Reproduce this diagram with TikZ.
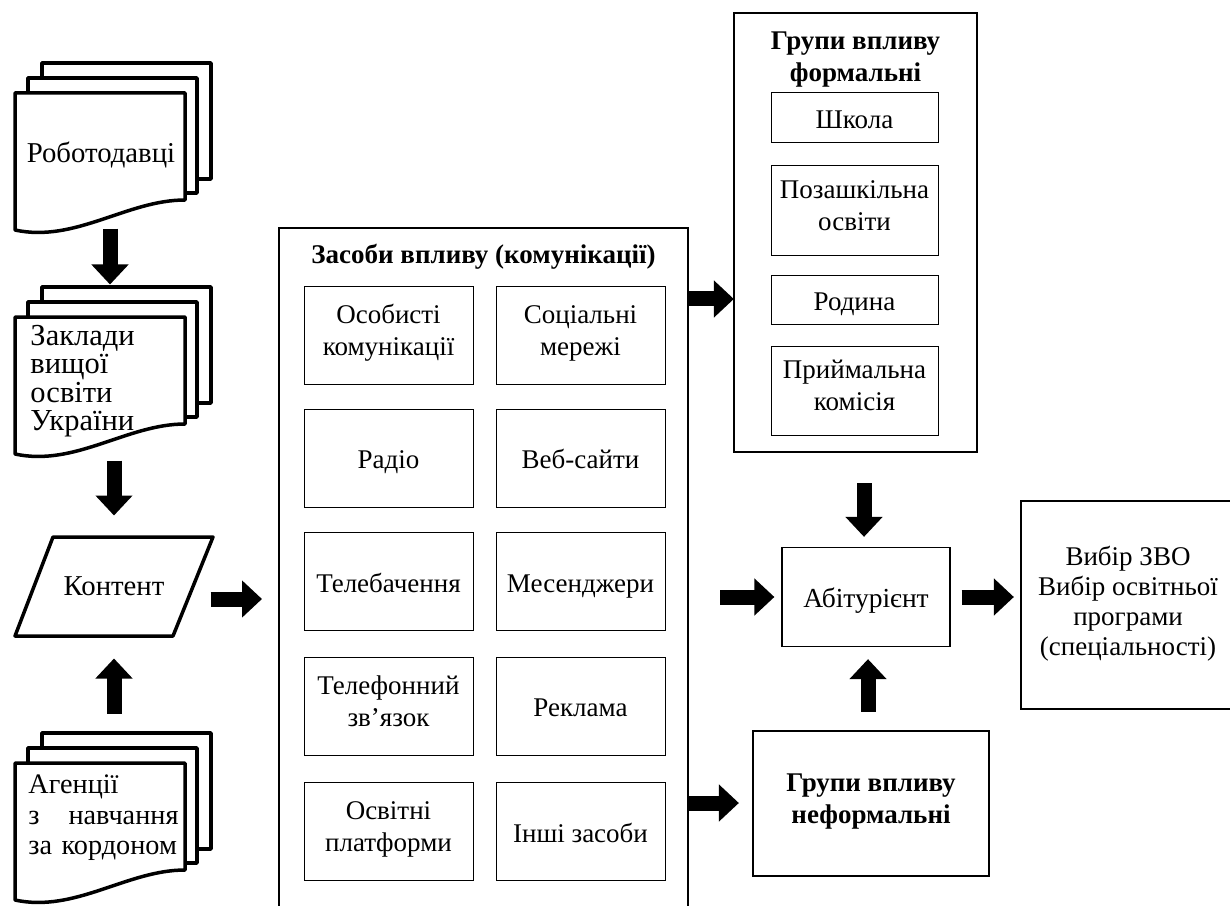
\documentclass[tikz,border=0pt]{standalone}
\usepackage{fontspec}
\setmainfont{Liberation Serif}
\usetikzlibrary{arrows.meta,calc}

\begin{document}
\begin{tikzpicture}
  [x=0.4pt,y=-0.4pt,font=\fontsize{10.8}{12.8}\selectfont,
   page/.style={draw,line width=1.4pt,fill=white,line join=round},
   item/.style={draw,line width=0.4pt,align=center,minimum width=67.6pt,minimum height=39.2pt,inner ysep=1pt,
     execute at begin node={\rule{0pt}{12.6pt}},execute at end node=\strut},
   group/.style={draw,line width=0.9pt,align=center,
     execute at begin node={\rule{0pt}{12.6pt}},execute at end node=\strut},
   head/.style={font=\fontsize{10.8}{12.8}\selectfont\bfseries,align=center},
   barrow/.style={line width=6pt,-{Triangle[width=14.4pt,length=8pt]}}]

  \path[use as bounding box,clip] (0,0) rectangle (1230,905);

  % stacks of documents on the left
  \foreach \y/\nm in {93/emp,317/univ,763/agen}{
    \draw[page] (42,\y-30) rectangle (211,\y+86);
    \draw[page] (28,\y-15) rectangle (197,\y+100);
    \draw[page] (15,\y) -- (185,\y) -- (185,\y+107)
      .. controls (127,\y+107) and (75,\y+150) .. (15,\y+137) -- cycle;
    \node[minimum width=68pt,minimum height=54.8pt] (\nm) at (100,\y+68.5) {};
  }
  \node[font=\fontsize{11.5}{12.8}\selectfont] (emptext) at (101,155) {Роботодавці};
  \node[align=left,anchor=west,inner sep=0pt,font=\fontsize{12.2}{11.4}\selectfont] (univtext) at (30,381) {Заклади\\вищої\\освіти\\України};
  \node[text width=60pt,align=left,anchor=west,inner sep=0pt,font=\fontsize{11.3}{12.2}\selectfont] (agentext) at (28,818) {Агенції\\з\hfill навчання\\за кордоном};

  \draw[page] (53,537) -- (213,537) -- (173,636) -- (15,636) -- cycle;
  \node[minimum width=79.2pt,minimum height=39.6pt,font=\fontsize{11.5}{12.8}\selectfont] (content) at (114,586.5) {Контент};

  % means of influence
  \node[draw,line width=0.8pt,minimum width=163.6pt,minimum height=276.8pt] (means) at (483.5,574) {};
  \node[head] (meanshead) at (483.5,257) {Засоби впливу (комунікації)};
  \node[item] (m1) at (388.5,335) {Особисті\\комунікації};
  \node[item] (m2) at (580.5,335) {Соціальні\\мережі};
  \node[item] (m3) at (388.5,458) {Радіо};
  \node[item] (m4) at (580.5,458) {Веб-сайти};
  \node[item] (m5) at (388.5,581.5) {Телебачення};
  \node[item] (m6) at (580.5,581.5) {Месенджери};
  \node[item] (m7) at (388.5,706) {Телефонний\\зв’язок};
  \node[item] (m8) at (580.5,706) {Реклама};
  \node[item] (m9) at (388.5,831.5) {Освітні\\платформи};
  \node[item] (m10) at (580.5,831.5) {Інші засоби};

  % formal groups
  \node[group,minimum width=97.2pt,minimum height=175.6pt] (formal) at (855.5,232.5) {};
  \node[head] (formalhead) at (855.5,59.5) {Групи впливу\\формальні};
  \node[item,minimum width=66.8pt,minimum height=20pt] (school) at (854.5,118) {Школа};
  \node[item,minimum width=66.8pt,minimum height=35.6pt] (extra) at (854.5,210.5) {Позашкільна\\освіти};
  \node[item,minimum width=66.8pt,minimum height=19.6pt] (family) at (854.5,299.5) {Родина};
  \node[item,minimum width=66.8pt,minimum height=35.6pt] (admission) at (854.5,390.5) {Приймальна\\комісія};

  \node[item,line width=0.5pt,minimum width=67.2pt,minimum height=39.6pt,font=\fontsize{11}{12.8}\selectfont] (abit) at (866,597) {Абітурієнт};
  \node[group,minimum width=94.4pt,minimum height=58pt,font=\fontsize{10.8}{12.8}\selectfont\bfseries] (informal) at (871,803.5) {Групи впливу\\неформальні};
  \node[group,minimum width=85.6pt,minimum height=83.2pt,font=\fontsize{10.8}{12}\selectfont] (choice) at (1128,605) {Вибір ЗВО\\Вибір освітньої\\програми\\(спеціальності)};

  \coordinate (feed) at (720,597);

  % block arrows
  \draw[barrow] ($(emp.south)+(10,-2)$) -- ($(univ.north)+(10,-32)$);
  \draw[barrow] ($(univ.south)+(14,6)$) -- ($(content.north)+(0,-21)$);
  \draw[barrow] ($(agen.north)+(14,-49)$) -- ($(content.south)+(0,22)$);
  \draw[barrow] ($(content.east)+(-3,12.5)$) -- ($(means.west)+(-16,25)$);
  \draw[barrow] ($(means.north east)+(0,72)$) -- ($(formal.west |- means.north east)+(1,72)$);
  \draw[barrow] ($(means.east)+(0,229)$) -- ($(informal.west)+(-13,-0.5)$);
  \draw[barrow] ($(formal.south)+(8.5,30)$) -- ($(abit.north)+(-2,-10)$);
  \draw[barrow] (feed) -- ($(abit.west)+(-7,0)$);
  \draw[barrow] ($(informal.north)+(-3,-18)$) -- ($(abit.south)+(2,12)$);
  \draw[barrow] ($(abit.east)+(11,0)$) -- ($(abit.east -| choice.west)+(-6,0)$);

\end{tikzpicture}
\end{document}
